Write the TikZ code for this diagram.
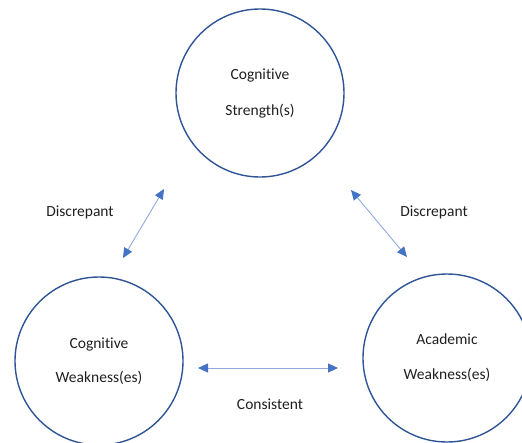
\documentclass[tikz,border=0pt]{standalone}
\usepackage{fontspec}
\setmainfont{Carlito}[Ligatures={NoCommon}]
\usetikzlibrary{arrows.meta}
\definecolor{ringblue}{HTML}{2F5597}
\definecolor{linkblue}{HTML}{8FAADC}
\definecolor{tipblue}{HTML}{4472C4}
\definecolor{txt}{HTML}{1F1F1F}
\begin{document}
\begin{tikzpicture}[x=1pt,y=-1pt,
  ring/.style={circle,draw=ringblue,line width=1.4pt,minimum size=168pt,inner sep=0pt,
    align=center,font=\fontsize{15.5}{19}\selectfont,text=txt},
  link/.style={draw=linkblue,line width=0.9pt,
    {Triangle[length=10pt,width=9pt,color=tipblue]}-{Triangle[length=10pt,width=9pt,color=tipblue]}},
  lbl/.style={font=\fontsize{15.5}{19}\selectfont,text=txt}]
\useasboundingbox (0,0) rectangle (522,442);
\node[ring] (top) at (260,93) {Cognitive\\[17pt]Strength(s)};
\node[ring] (left) at (99,361) {Cognitive\\[15pt]Weakness(es)};
\node[ring] (right) at (447,358) {Academic\\[16pt]Weakness(es)};
\coordinate (a1) at (164,189);
\coordinate (a2) at (123,258);
\coordinate (b1) at (351,190);
\coordinate (b2) at (407,257);
\coordinate (c1) at (198,368);
\coordinate (c2) at (338,368);
\draw[link] (a1) -- (a2);
\draw[link] (b1) -- (b2);
\draw[link] (c1) -- (c2);
\node[lbl] (d1) at (80,212) {Discrepant};
\node[lbl] (d2) at (434,212) {Discrepant};
\node[lbl] (cons) at (270,404) {Consistent};
\end{tikzpicture}
\end{document}
